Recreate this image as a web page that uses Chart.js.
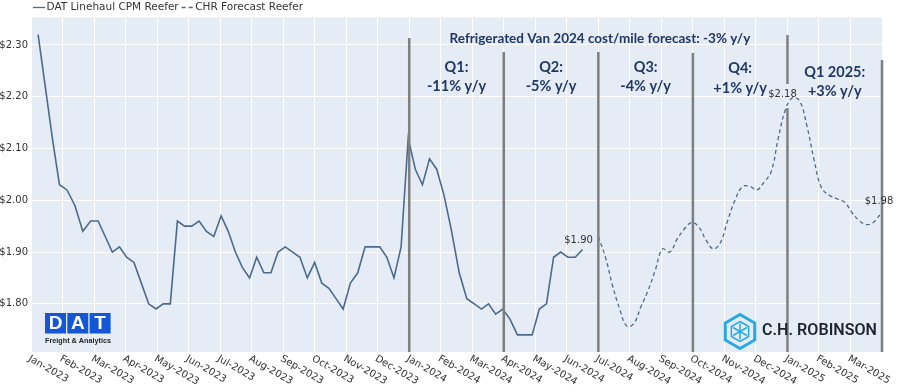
<!DOCTYPE html>
<html>
<head>
<meta charset="utf-8">
<script src="https://cdn.jsdelivr.net/npm/chart.js@4.4.0/dist/chart.umd.min.js"></script>
<style>
  html, body { margin: 0; padding: 0; background: #fff; }
</style>
</head>
<body>
<canvas id="myChart" width="900" height="392"></canvas>
<script>
// month ticks, 0 = Jan-2023
const monthLabels = [
  'Jan-2023', 'Feb-2023', 'Mar-2023', 'Apr-2023', 'May-2023', 'Jun-2023',
  'Jul-2023', 'Aug-2023', 'Sep-2023', 'Oct-2023', 'Nov-2023', 'Dec-2023',
  'Jan-2024', 'Feb-2024', 'Mar-2024', 'Apr-2024', 'May-2024', 'Jun-2024',
  'Jul-2024', 'Aug-2024', 'Sep-2024', 'Oct-2024', 'Nov-2024', 'Dec-2024',
  'Jan-2025', 'Feb-2025', 'Mar-2025'
];

// DAT weekly linehaul cost per mile, reefer
const datLabel = 'DAT Linehaul CPM Reefer';
const datStart = '2023-01-08';
const datValues = [
  2.32, 2.22, 2.12, 2.03, 2.02, 1.99, 1.94, 1.96, 1.96, 1.93,
  1.90, 1.91, 1.89, 1.88, 1.84, 1.80, 1.79, 1.80, 1.80, 1.96,
  1.95, 1.95, 1.96, 1.94, 1.93, 1.97, 1.94, 1.90, 1.87, 1.85,
  1.89, 1.86, 1.86, 1.90, 1.91, 1.90, 1.89, 1.85, 1.88, 1.84,
  1.83, 1.81, 1.79, 1.84, 1.86, 1.91, 1.91, 1.91, 1.89, 1.85,
  1.91, 2.12, 2.06, 2.03, 2.08, 2.06, 2.01, 1.94, 1.86, 1.81,
  1.80, 1.79, 1.80, 1.78, 1.79, 1.77, 1.74, 1.74, 1.74, 1.79,
  1.80, 1.89, 1.90, 1.89, 1.89, 1.905
];

// CHR weekly forecast, reefer
const chrLabel = 'CHR Forecast Reefer';
const chrStart = '2024-07-01';
const chrValues = [
  1.93, 1.89, 1.835, 1.79, 1.757, 1.762, 1.795, 1.826, 1.865, 1.906,
  1.90, 1.925, 1.945, 1.957, 1.948, 1.923, 1.906, 1.918, 1.96, 2.00,
  2.026, 2.027, 2.02, 2.035, 2.055, 2.12, 2.175, 2.198, 2.192, 2.145,
  2.08, 2.025, 2.01, 2.003, 1.996, 1.975, 1.96, 1.953, 1.958, 1.975
];

// quarter boundaries (month index) and annotations
const quarterLines = [12, 15, 18, 21, 24, 27];
const quarterNames = ['Q1:', 'Q2:', 'Q3:', 'Q4:', 'Q1 2025:'];
const quarterChanges = ['-11% y/y', '-5% y/y', '-4% y/y', '+1% y/y', '+3% y/y'];
const headline = 'Refrigerated Van 2024 cost/mile forecast: -3% y/y';

// value callouts: [dataset, point index, text]
const callouts = [
  [0, 75, '$1.90'],
  [1, 27, '$2.18'],
  [1, 39, '$1.98']
];

function monthPos(d) {
  const dim = new Date(d.getFullYear(), d.getMonth() + 1, 0).getDate();
  return (d.getFullYear() - 2023) * 12 + d.getMonth() + (d.getDate() - 1) / dim;
}
function weekly(start, values) {
  const d0 = new Date(start + 'T00:00:00');
  return values.map((v, i) => {
    const d = new Date(d0);
    d.setDate(d0.getDate() + 7 * i);
    return { x: monthPos(d), y: v };
  });
}

const FONT = 'DejaVu Sans';
const NAVY = '#1f3864';
const LINE = '#4a6b8e';

const plotBg = {
  id: 'plotBg',
  beforeDraw(chart) {
    const { ctx, chartArea: a } = chart;
    ctx.save();
    ctx.fillStyle = '#e5ecf6';
    ctx.fillRect(a.left, a.top, a.right - a.left, a.bottom - a.top);
    ctx.restore();
  }
};

const overlay = {
  id: 'overlay',
  afterDraw(chart) {
    const { ctx, chartArea: a, scales } = chart;
    const xs = scales.x;
    ctx.save();

    // x tick labels, rotated like the original
    ctx.font = '10px ' + FONT;
    ctx.fillStyle = '#333';
    ctx.textAlign = 'left';
    ctx.textBaseline = 'middle';
    monthLabels.forEach((lab, i) => {
      ctx.save();
      ctx.translate(xs.getPixelForValue(i) - 2, a.bottom + 6);
      ctx.rotate(Math.PI / 6);
      ctx.fillText(lab, 0, 0);
      ctx.restore();
    });

    // quarter separators
    const tops = [38, 52, 52, 53, 35, 60];
    ctx.strokeStyle = '#7f7f7f';
    ctx.lineWidth = 2.5;
    quarterLines.forEach((m, i) => {
      const x = xs.getPixelForValue(m);
      ctx.beginPath();
      if (i === 4) {
        ctx.moveTo(x, tops[i]); ctx.lineTo(x, 84);
        ctx.moveTo(x, 108); ctx.lineTo(x, a.bottom);
      } else {
        ctx.moveTo(x, tops[i]); ctx.lineTo(x, a.bottom);
      }
      ctx.stroke();
    });

    // headline and quarter texts
    ctx.fillStyle = NAVY;
    ctx.textAlign = 'center';
    ctx.textBaseline = 'middle';
    ctx.font = 'bold 13.5px Lato';
    ctx.fillText(headline, xs.getPixelForValue(18.05), 39);
    ctx.font = 'bold 14.5px Lato';
    const dy = [0, 0, 0, 1, 5];
    quarterNames.forEach((q, i) => {
      const x = xs.getPixelForValue((quarterLines[i] + quarterLines[i + 1]) / 2);
      ctx.fillText(q, x, 67 + dy[i]);
      ctx.fillText(quarterChanges[i], x, 86 + dy[i] + (i === 3 ? 1 : 0));
    });

    // value callouts
    const offs = [[-4, -9], [-10, -3], [-2, -12]];
    ctx.font = '10px ' + FONT;
    ctx.fillStyle = '#333';
    callouts.forEach(([ds, idx, txt], i) => {
      const p = chart.getDatasetMeta(ds).data[idx];
      ctx.fillText(txt, p.x + offs[i][0], p.y + offs[i][1]);
    });

    // legend
    ctx.textAlign = 'left';
    ctx.font = '10.5px ' + FONT;
    let lx = 33;
    chart.data.datasets.forEach(d => {
      ctx.strokeStyle = d.borderColor;
      ctx.lineWidth = 1.3;
      ctx.setLineDash(d.borderDash || []);
      ctx.beginPath();
      ctx.moveTo(lx, 7.5); ctx.lineTo(lx + 12, 7.5);
      ctx.stroke();
      ctx.setLineDash([]);
      ctx.fillStyle = '#333';
      ctx.fillText(d.label, lx + 13.5, 7.5);
      lx += 13.5 + ctx.measureText(d.label).width + 3;
    });

    // DAT logo
    ['D', 'A', 'T'].forEach((ch, i) => {
      const bx = 45 + i * 22.3;
      ctx.fillStyle = '#1356d6';
      ctx.fillRect(bx, 313, 21, 20.5);
      ctx.fillStyle = '#fff';
      ctx.font = 'bold 19px "Liberation Sans"';
      ctx.textAlign = 'center';
      ctx.fillText(ch, bx + 10.5, 324);
    });
    ctx.textAlign = 'left';
    ctx.fillStyle = '#222';
    ctx.font = 'bold 7.5px "Liberation Sans"';
    const fw = ctx.measureText('Freight & Analytics').width;
    ctx.save();
    ctx.translate(45, 340.5);
    ctx.scale(66 / fw, 1);
    ctx.fillText('Freight & Analytics', 0, 0);
    ctx.restore();

    // C.H. Robinson logo
    const cx = 740, cy = 331.5, R = 17;
    ctx.strokeStyle = '#27a9e1';
    ctx.lineWidth = 3;
    ctx.beginPath();
    for (let k = 0; k < 6; k++) {
      const ang = -Math.PI / 2 + k * Math.PI / 3;
      const px = cx + R * Math.cos(ang), py = cy + R * Math.sin(ang);
      k ? ctx.lineTo(px, py) : ctx.moveTo(px, py);
    }
    ctx.closePath();
    ctx.stroke();
    ctx.lineWidth = 1.5;
    ctx.beginPath();
    for (let k = 0; k < 6; k++) {
      const ang = -Math.PI / 2 + k * Math.PI / 3;
      const px = cx + 10 * Math.cos(ang), py = cy + 10 * Math.sin(ang);
      k ? ctx.lineTo(px, py) : ctx.moveTo(px, py);
    }
    ctx.closePath();
    ctx.stroke();
    ctx.beginPath();
    for (let k = 0; k < 3; k++) {
      const ang = -Math.PI / 2 + k * Math.PI / 3;
      ctx.moveTo(cx + 8 * Math.cos(ang), cy + 8 * Math.sin(ang));
      ctx.lineTo(cx - 8 * Math.cos(ang), cy - 8 * Math.sin(ang));
    }
    ctx.stroke();
    ctx.fillStyle = '#1d2630';
    ctx.font = '600 17px Roboto';
    ctx.textBaseline = 'middle';
    const tw = ctx.measureText('C.H. ROBINSON').width;
    ctx.save();
    ctx.translate(762, 331);
    ctx.scale(115 / tw, 1);
    ctx.fillText('C.H. ROBINSON', 0, 0);
    ctx.restore();

    ctx.restore();
  }
};

const config = {
  type: 'line',
  data: {
    datasets: [
      {
        label: datLabel,
        data: weekly(datStart, datValues),
        borderColor: LINE,
        borderWidth: 1.6,
        pointRadius: 0,
        tension: 0
      },
      {
        label: chrLabel,
        data: weekly(chrStart, chrValues),
        borderColor: LINE,
        borderWidth: 1.3,
        borderDash: [4, 3],
        pointRadius: 0,
        tension: 0.4
      }
    ]
  },
  options: {
    responsive: false,
    animation: false,
    devicePixelRatio: 1,
    layout: { padding: { top: 17.5, right: 18, left: 0, bottom: 0 } },
    scales: {
      x: {
        type: 'linear',
        min: 0,
        max: 27,
        afterFit: (s) => { s.height = 40; },
        ticks: { stepSize: 1, display: false },
        grid: { color: '#ffffff', lineWidth: 1, drawTicks: false },
        border: { display: false }
      },
      y: {
        min: 1.707,
        max: 2.353,
        afterFit: (s) => { s.width = 31; },
        ticks: {
          stepSize: 0.1,
          includeBounds: false,
          padding: 3,
          color: '#333',
          font: { family: FONT, size: 10 },
          callback: (v) => '$' + v.toFixed(2)
        },
        grid: { color: '#ffffff', lineWidth: 1, drawTicks: false },
        border: { display: false }
      }
    },
    plugins: {
      legend: { display: false },
      tooltip: { enabled: false }
    }
  },
  plugins: [plotBg, overlay]
};

const myChart = new Chart(document.getElementById('myChart'), config);
</script>
</body>
</html>
